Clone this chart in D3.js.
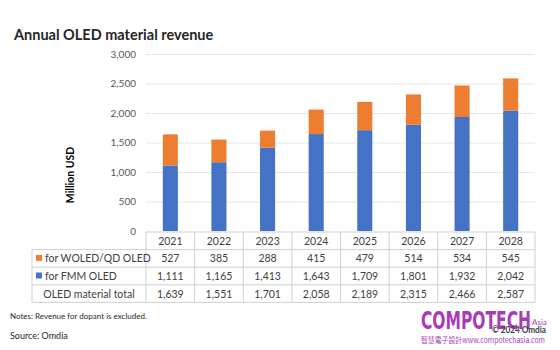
<!DOCTYPE html>
<html>
<head>
<meta charset="utf-8">
<script src="https://cdn.jsdelivr.net/npm/d3@7"></script>
<style>
	body { margin: 0; background: #fff; }
	svg { font-family: Lato, "Open Sans", sans-serif; }
</style>
</head>
<body>
<div id="chart"></div>
<script>
// Chart data
const years = ["2021", "2022", "2023", "2024", "2025", "2026", "2027", "2028"]
const woled = [527, 385, 288, 415, 479, 514, 534, 545]
const fmm = [1111, 1165, 1413, 1643, 1709, 1801, 1932, 2042]
const totals = [1639, 1551, 1701, 2058, 2189, 2315, 2466, 2587]
const yTicks = [0, 500, 1000, 1500, 2000, 2500, 3000]
const rowLabels = ["for WOLED/QD OLED", "for FMM OLED", "OLED material total"]

const width = 560
const height = 350
const plot = { left: 146, right: 535, top: 54, bottom: 231 }
const blue = "#4472c4"
const orange = "#ed7d31"
const fmt = d3.format(",")

const svg = d3
	.select("#chart")
	.append("svg")
	.attr("width", width)
	.attr("height", height)

// Title
svg.append("text")
	.attr("x", 14)
	.attr("y", 40)
	.attr("font-size", 14.5)
	.attr("font-weight", "bold")
	.attr("fill", "#262626")
	.text("Annual OLED material revenue")

// Scales
const xScale = d3
	.scaleBand()
	.domain(years)
	.range([plot.left, plot.right])
	.paddingInner(0.69)
	.paddingOuter(0.345)

const yScale = d3
	.scaleLinear()
	.domain([0, 3000])
	.range([plot.bottom, plot.top])

// Gridlines + y axis
const yAxis = svg.append("g")
	.attr("transform", `translate(${plot.left},0)`)
	.call(
		d3.axisLeft(yScale)
			.tickValues(yTicks)
			.tickSize(-(plot.right - plot.left))
			.tickPadding(10)
			.tickFormat(fmt)
	)
yAxis.select(".domain").remove()
yAxis.selectAll(".tick line")
	.attr("stroke", (d) => (d === 0 ? "none" : "#e6e6e6"))
	.attr("stroke-width", 1)
yAxis.selectAll(".tick text")
	.attr("font-size", 10)
	.attr("fill", "#595959")
	.attr("font-family", "Lato, sans-serif")

// Y axis title
svg.append("text")
	.attr("transform", "translate(74,175) rotate(-90)")
	.attr("text-anchor", "middle")
	.attr("font-size", 10.5)
	.attr("font-weight", "bold")
	.attr("fill", "#000")
	.text("Million USD")

// Stacked bars
const stackData = years.map((y, i) => ({ year: y, fmm: fmm[i], woled: woled[i] }))
const series = d3.stack().keys(["fmm", "woled"])(stackData)
const colors = { fmm: blue, woled: orange }

svg.append("g")
	.selectAll("g")
	.data(series)
	.join("g")
	.attr("fill", (s) => colors[s.key])
	.selectAll("rect")
	.data((s) => s)
	.join("rect")
	.attr("x", (d) => xScale(d.data.year))
	.attr("width", xScale.bandwidth())
	.attr("y", (d) => yScale(d[1]))
	.attr("height", (d) => yScale(d[0]) - yScale(d[1]))

// Data table
const tableTop = 232
const rowH = 17.6
const labelLeft = 32
const step = xScale.step()
const colLeft = (i) => plot.left + i * step
const table = svg.append("g")
const lineColor = "#d0d0d0"

// horizontal lines
for (let r = 0; r <= 4; r++) {
	const y = tableTop + r * rowH
	table.append("line")
		.attr("x1", r < 1 ? plot.left : labelLeft)
		.attr("x2", plot.right)
		.attr("y1", y)
		.attr("y2", y)
		.attr("stroke", lineColor)
}
// vertical lines
table.append("line")
	.attr("x1", labelLeft).attr("x2", labelLeft)
	.attr("y1", tableTop + rowH).attr("y2", tableTop + 4 * rowH)
	.attr("stroke", lineColor)
for (let c = 0; c <= years.length; c++) {
	const x = colLeft(c)
	table.append("line")
		.attr("x1", x).attr("x2", x)
		.attr("y1", tableTop).attr("y2", tableTop + 4 * rowH)
		.attr("stroke", lineColor)
}

const rows = [years, woled.map(fmt), fmm.map(fmt), totals.map(fmt)]
rows.forEach((row, r) => {
	row.forEach((v, c) => {
		table.append("text")
			.attr("x", colLeft(c) + step / 2)
			.attr("y", tableTop + r * rowH + rowH / 2 + 4)
			.attr("text-anchor", "middle")
			.attr("font-size", 10.5)
			.attr("fill", "#404040")
			.text(v)
	})
})

// row labels with legend keys
const keyColors = [orange, blue, null]
rowLabels.forEach((label, r) => {
	const cy = tableTop + (r + 1) * rowH + rowH / 2
	if (keyColors[r]) {
		table.append("rect")
			.attr("x", 36)
			.attr("y", cy - 3.5)
			.attr("width", 6)
			.attr("height", 6)
			.attr("fill", keyColors[r])
		table.append("text")
			.attr("x", 45)
			.attr("y", cy + 4)
			.attr("font-size", 10.5)
			.attr("fill", "#404040")
			.text(label)
	} else {
		table.append("text")
			.attr("x", (labelLeft + plot.left) / 2)
			.attr("y", cy + 4)
			.attr("text-anchor", "middle")
			.attr("font-size", 10.5)
			.attr("fill", "#404040")
			.text(label)
	}
})

// Notes and source
svg.append("text")
	.attr("x", 10)
	.attr("y", 319)
	.attr("font-size", 8)
	.attr("fill", "#262626")
	.text("Notes: Revenue for dopant is excluded.")

svg.append("text")
	.attr("x", 10)
	.attr("y", 339)
	.attr("font-size", 9)
	.attr("fill", "#262626")
	.text("Source: Omdia")

// Watermark
svg.append("text")
	.attr("x", 421)
	.attr("y", 329)
	.attr("font-size", 24)
	.attr("font-weight", "bold")
	.attr("font-family", "'Liberation Sans Narrow', 'DejaVu Sans Condensed', sans-serif")
	.attr("textLength", 110)
	.attr("lengthAdjust", "spacingAndGlyphs")
	.attr("fill", "#a83cb8")
	.text("COMPOTECH")

svg.append("text")
	.attr("x", 532)
	.attr("y", 325)
	.attr("font-size", 8)
	.attr("fill", "#a83cb8")
	.text("Asia")

svg.append("text")
	.attr("x", 492)
	.attr("y", 333)
	.attr("font-size", 8.5)
	.attr("font-weight", "bold")
	.attr("textLength", 54)
	.attr("lengthAdjust", "spacingAndGlyphs")
	.attr("fill", "#404040")
	.text("© 2024 Omdia")

svg.append("text")
	.attr("x", 421)
	.attr("y", 343)
	.attr("font-size", 7.5)
	.attr("font-family", "'Noto Sans CJK TC', sans-serif")
	.attr("textLength", 124)
	.attr("lengthAdjust", "spacingAndGlyphs")
	.attr("fill", "#a83cb8")
	.text("智慧電子設計www.compotechasia.com")
</script>
</body>
</html>
